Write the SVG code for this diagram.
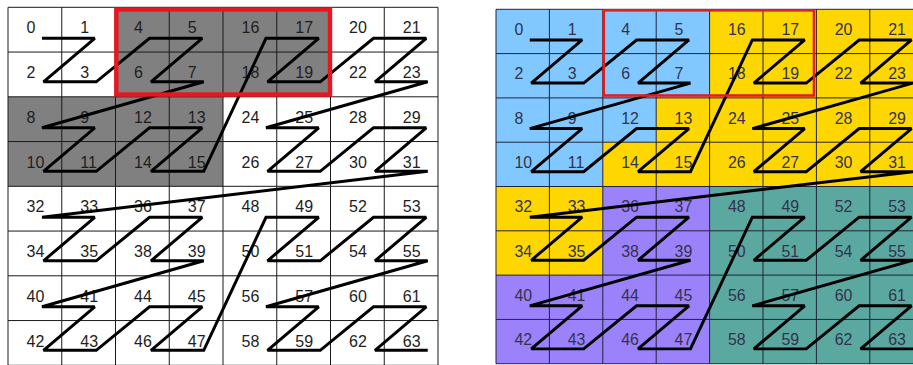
<svg xmlns="http://www.w3.org/2000/svg" width="913" height="365" viewBox="0 0 913 365">
<defs>
<style>
.grid{fill:none;stroke:#1a1a1a;stroke-width:1}
.gridR{fill:none;stroke:#202038;stroke-width:1}
.curve{fill:none;stroke:#000;stroke-width:3;stroke-linejoin:miter;stroke-miterlimit:1.6}
.lblL text{font-family:"Liberation Sans",Arial,sans-serif;font-size:16px;fill:#1e1e1e}
.lblR text{font-family:"Liberation Sans",Arial,sans-serif;font-size:16px;fill:#33334d}
.gray{fill:#808080}
.blue{fill:#80c8ff}
.yellow{fill:#ffd700}
.purple{fill:#9b82fa}
.teal{fill:#5aa8a0}
</style>
</defs>
<rect width="913" height="365" fill="#ffffff"/>

<!-- LEFT GRID -->
<g id="left-grid" transform="translate(8,7.3)">
  <g id="left-fills">
    <rect class="gray" x="107.5" y="0" width="215" height="89.5"/>
    <rect class="gray" x="0" y="89.5" width="215" height="89.5"/>
  </g>
  <path class="grid" d="M0,0V358M53.75,0V358M107.5,0V358M161.25,0V358M215,0V358M268.75,0V358M322.5,0V358M376.25,0V358M430,0V358M0,0H430M0,44.75H430M0,89.5H430M0,134.25H430M0,179H430M0,223.75H430M0,268.5H430M0,313.25H430M0,358H430"/>
  <g id="left-labels" class="lblL">
    <text x="18.5" y="26">0</text><text x="72.25" y="26">1</text><text x="126" y="26">4</text><text x="179.75" y="26">5</text><text x="233.5" y="26">16</text><text x="287.25" y="26">17</text><text x="341" y="26">20</text><text x="394.75" y="26">21</text>
    <text x="18.5" y="70.75">2</text><text x="72.25" y="70.75">3</text><text x="126" y="70.75">6</text><text x="179.75" y="70.75">7</text><text x="233.5" y="70.75">18</text><text x="287.25" y="70.75">19</text><text x="341" y="70.75">22</text><text x="394.75" y="70.75">23</text>
    <text x="18.5" y="115.5">8</text><text x="72.25" y="115.5">9</text><text x="126" y="115.5">12</text><text x="179.75" y="115.5">13</text><text x="233.5" y="115.5">24</text><text x="287.25" y="115.5">25</text><text x="341" y="115.5">28</text><text x="394.75" y="115.5">29</text>
    <text x="18.5" y="160.25">10</text><text x="72.25" y="160.25">11</text><text x="126" y="160.25">14</text><text x="179.75" y="160.25">15</text><text x="233.5" y="160.25">26</text><text x="287.25" y="160.25">27</text><text x="341" y="160.25">30</text><text x="394.75" y="160.25">31</text>
    <text x="18.5" y="205">32</text><text x="72.25" y="205">33</text><text x="126" y="205">36</text><text x="179.75" y="205">37</text><text x="233.5" y="205">48</text><text x="287.25" y="205">49</text><text x="341" y="205">52</text><text x="394.75" y="205">53</text>
    <text x="18.5" y="249.75">34</text><text x="72.25" y="249.75">35</text><text x="126" y="249.75">38</text><text x="179.75" y="249.75">39</text><text x="233.5" y="249.75">50</text><text x="287.25" y="249.75">51</text><text x="341" y="249.75">54</text><text x="394.75" y="249.75">55</text>
    <text x="18.5" y="294.5">40</text><text x="72.25" y="294.5">41</text><text x="126" y="294.5">44</text><text x="179.75" y="294.5">45</text><text x="233.5" y="294.5">56</text><text x="287.25" y="294.5">57</text><text x="341" y="294.5">60</text><text x="394.75" y="294.5">61</text>
    <text x="18.5" y="339.25">42</text><text x="72.25" y="339.25">43</text><text x="126" y="339.25">46</text><text x="179.75" y="339.25">47</text><text x="233.5" y="339.25">58</text><text x="287.25" y="339.25">59</text><text x="341" y="339.25">62</text><text x="394.75" y="339.25">63</text>
  </g>
  <g id="left-connectors">
    <polyline class="curve" points="34,31 86.75,31 35.5,74.5 88.25,74.5 141.5,31 194.25,31 143,74.5 195.75,74.5 34,120.5 86.75,120.5 35.5,164 88.25,164 141.5,120.5 194.25,120.5 143,164 195.75,164 258,31 310.75,31 259.5,74.5 312.25,74.5 365.5,31 418.25,31 367,74.5 419.75,74.5 258,120.5 310.75,120.5 259.5,164 312.25,164 365.5,120.5 418.25,120.5 367,164 419.75,164 34,210 86.75,210 35.5,253.5 88.25,253.5 141.5,210 194.25,210 143,253.5 195.75,253.5 34,299.5 86.75,299.5 35.5,343 88.25,343 141.5,299.5 194.25,299.5 143,343 195.75,343 258,210 310.75,210 259.5,253.5 312.25,253.5 365.5,210 418.25,210 367,253.5 419.75,253.5 258,299.5 310.75,299.5 259.5,343 312.25,343 365.5,299.5 418.25,299.5 367,343 419.75,343"/>
  </g>
</g>
<g id="left-highlight">
  <rect x="116.3" y="9.5" width="213.7" height="85" fill="none" stroke="#e8161e" stroke-width="4.4"/>
</g>

<!-- RIGHT GRID -->
<g id="right-grid" transform="translate(496,9.3) scale(0.9935,0.99)">
  <g id="right-fills">
    <rect class="blue" x="0" y="0" width="215" height="89.5"/>
    <rect class="blue" x="0" y="89.5" width="161.25" height="44.75"/>
    <rect class="blue" x="0" y="134.25" width="107.5" height="44.75"/>
    <rect class="yellow" x="215" y="0" width="215" height="179"/>
    <rect class="yellow" x="161.25" y="89.5" width="53.75" height="44.75"/>
    <rect class="yellow" x="107.5" y="134.25" width="107.5" height="44.75"/>
    <rect class="yellow" x="0" y="179" width="107.5" height="89.5"/>
    <rect class="purple" x="107.5" y="179" width="107.5" height="89.5"/>
    <rect class="purple" x="0" y="268.5" width="215" height="89.5"/>
    <rect class="teal" x="215" y="179" width="215" height="179"/>
  </g>
  <path class="gridR" d="M0,0V358M53.75,0V358M107.5,0V358M161.25,0V358M215,0V358M268.75,0V358M322.5,0V358M376.25,0V358M430,0V358M0,0H430M0,44.75H430M0,89.5H430M0,134.25H430M0,179H430M0,223.75H430M0,268.5H430M0,313.25H430M0,358H430"/>
  <g id="right-labels" class="lblR">
    <text x="18.5" y="26">0</text><text x="72.25" y="26">1</text><text x="126" y="26">4</text><text x="179.75" y="26">5</text><text x="233.5" y="26">16</text><text x="287.25" y="26">17</text><text x="341" y="26">20</text><text x="394.75" y="26">21</text>
    <text x="18.5" y="70.75">2</text><text x="72.25" y="70.75">3</text><text x="126" y="70.75">6</text><text x="179.75" y="70.75">7</text><text x="233.5" y="70.75">18</text><text x="287.25" y="70.75">19</text><text x="341" y="70.75">22</text><text x="394.75" y="70.75">23</text>
    <text x="18.5" y="115.5">8</text><text x="72.25" y="115.5">9</text><text x="126" y="115.5">12</text><text x="179.75" y="115.5">13</text><text x="233.5" y="115.5">24</text><text x="287.25" y="115.5">25</text><text x="341" y="115.5">28</text><text x="394.75" y="115.5">29</text>
    <text x="18.5" y="160.25">10</text><text x="72.25" y="160.25">11</text><text x="126" y="160.25">14</text><text x="179.75" y="160.25">15</text><text x="233.5" y="160.25">26</text><text x="287.25" y="160.25">27</text><text x="341" y="160.25">30</text><text x="394.75" y="160.25">31</text>
    <text x="18.5" y="205">32</text><text x="72.25" y="205">33</text><text x="126" y="205">36</text><text x="179.75" y="205">37</text><text x="233.5" y="205">48</text><text x="287.25" y="205">49</text><text x="341" y="205">52</text><text x="394.75" y="205">53</text>
    <text x="18.5" y="249.75">34</text><text x="72.25" y="249.75">35</text><text x="126" y="249.75">38</text><text x="179.75" y="249.75">39</text><text x="233.5" y="249.75">50</text><text x="287.25" y="249.75">51</text><text x="341" y="249.75">54</text><text x="394.75" y="249.75">55</text>
    <text x="18.5" y="294.5">40</text><text x="72.25" y="294.5">41</text><text x="126" y="294.5">44</text><text x="179.75" y="294.5">45</text><text x="233.5" y="294.5">56</text><text x="287.25" y="294.5">57</text><text x="341" y="294.5">60</text><text x="394.75" y="294.5">61</text>
    <text x="18.5" y="339.25">42</text><text x="72.25" y="339.25">43</text><text x="126" y="339.25">46</text><text x="179.75" y="339.25">47</text><text x="233.5" y="339.25">58</text><text x="287.25" y="339.25">59</text><text x="341" y="339.25">62</text><text x="394.75" y="339.25">63</text>
  </g>
  <g id="right-connectors">
    <polyline class="curve" points="34,31 86.75,31 35.5,74.5 88.25,74.5 141.5,31 194.25,31 143,74.5 195.75,74.5 34,120.5 86.75,120.5 35.5,164 88.25,164 141.5,120.5 194.25,120.5 143,164 195.75,164 258,31 310.75,31 259.5,74.5 312.25,74.5 365.5,31 418.25,31 367,74.5 419.75,74.5 258,120.5 310.75,120.5 259.5,164 312.25,164 365.5,120.5 418.25,120.5 367,164 419.75,164 34,210 86.75,210 35.5,253.5 88.25,253.5 141.5,210 194.25,210 143,253.5 195.75,253.5 34,299.5 86.75,299.5 35.5,343 88.25,343 141.5,299.5 194.25,299.5 143,343 195.75,343 258,210 310.75,210 259.5,253.5 312.25,253.5 365.5,210 418.25,210 367,253.5 419.75,253.5 258,299.5 310.75,299.5 259.5,343 312.25,343 365.5,299.5 418.25,299.5 367,343 419.75,343"/>
  </g>
</g>
<g id="right-highlight">
  <rect x="603.7" y="10.3" width="210.3" height="85.2" fill="none" stroke="#e01e1e" stroke-width="2.6"/>
</g>
</svg>
